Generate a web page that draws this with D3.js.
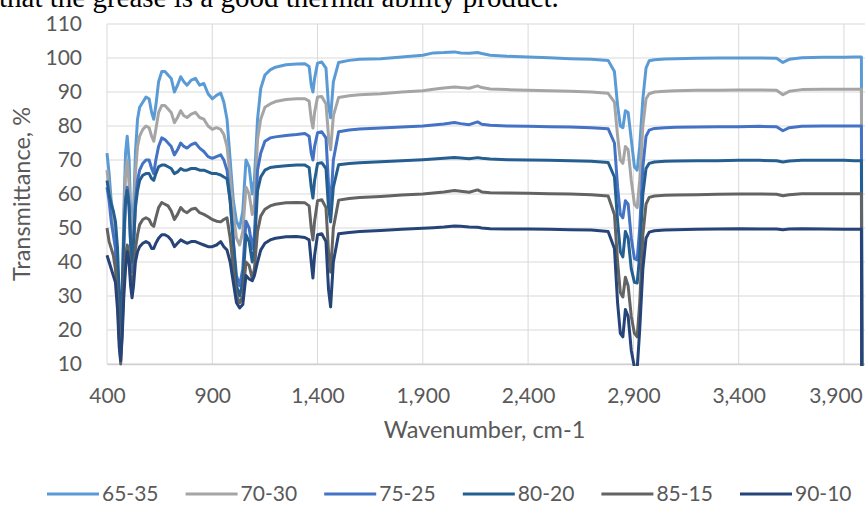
<!DOCTYPE html>
<html>
<head>
<meta charset="utf-8">
<script src="https://cdn.jsdelivr.net/npm/d3@7"></script>
<style>
  body { margin: 0; background: #fff; }
  #chartDiv { width: 865px; height: 505px; overflow: hidden; }
</style>
</head>
<body>
<div id="chartDiv"></div>
<script>
// wavenumber, cm-1 (shared by all six spectra)
var wavenumbers = [
  400, 410, 420, 430, 440, 450, 458, 465, 472, 480,
  488, 496, 505, 512, 519, 526, 535, 545, 555, 570,
  585, 600, 612, 622, 632, 645, 660, 675, 690, 705,
  720, 735, 750, 765, 780, 800, 820, 840, 860, 880,
  900, 920, 940, 955, 970, 985, 1000, 1015, 1030, 1045,
  1060, 1075, 1090, 1100, 1115, 1130, 1150, 1175, 1200, 1250,
  1300, 1340, 1360, 1370, 1378, 1386, 1400, 1420, 1440, 1452,
  1462, 1475, 1500, 1550, 1600, 1700, 1800, 1900, 1950, 2000,
  2050, 2080, 2120, 2160, 2180, 2220, 2300, 2400, 2500, 2600,
  2700, 2780, 2810, 2825, 2838, 2850, 2862, 2875, 2890, 2905,
  2918, 2930, 2945, 2960, 2975, 3000, 3050, 3100, 3200, 3300,
  3400, 3500, 3580, 3610, 3640, 3700, 3800, 3900, 3950, 3983,
  3985
];

// transmittance, %
var t6535 = [
  72, 66, 58, 54, 50, 38, 22, 15, 28, 55,
  72, 77, 70, 55, 45, 55, 72, 82, 85.5, 87,
  88.5, 88, 84, 82, 86, 93, 96, 96, 95, 94,
  90, 92, 94.5, 93, 92, 93.5, 94, 92, 92.5, 89.5,
  88, 89, 89.7, 87, 82, 70, 58, 52, 50, 55,
  70, 68, 60, 64, 82, 91, 95, 96.5, 97.3, 98,
  98.2, 98.3, 97.5, 92, 90, 94, 98.5, 98.8, 97, 86,
  82.4, 93, 98.7, 99.3, 99.6, 99.8, 100.3, 100.8, 101.5, 101.6,
  101.8, 101.5, 101.4, 101.6, 101.3, 100.8, 100.5, 100.3, 100.1, 99.8,
  99.6, 99.3, 96, 86, 80, 79.5, 84.5, 84, 76, 68,
  67, 74, 88, 97, 99.2, 99.5, 99.7, 99.8, 99.9, 100,
  100, 100, 99.9, 98.7, 99.6, 100.1, 100.2, 100.2, 100.3, 100.3,
  0
];
var t7030 = [
  67, 61, 55, 50, 46, 34, 20, 14, 25, 50,
  66, 70, 63, 50, 40, 50, 66, 74, 77, 79,
  80, 79.5, 77, 75.5, 79, 84, 86, 86, 85, 84,
  81, 82.5, 84.5, 83, 82.5, 83.5, 84, 82.5, 82, 80,
  79, 79.5, 79, 77.5, 74, 65, 54, 47, 45, 49,
  62, 60, 54, 57, 76, 82, 85.5, 86.5, 87.2, 87.8,
  88, 88, 87.3, 82, 79.4, 84, 88.5, 88.7, 86.5, 77,
  73, 83, 88.4, 88.9, 89.2, 89.5, 90, 90.4, 90.8, 91.2,
  91.5, 91.3, 91.1, 91.8, 91.3, 90.9, 90.7, 90.5, 90.4, 90.2,
  90, 89.6, 87, 77, 70, 69, 74, 73, 64, 57,
  56, 64, 80, 88, 89.5, 90, 90.2, 90.4, 90.5, 90.5,
  90.6, 90.6, 90.5, 89.2, 90.2, 90.7, 90.8, 90.8, 90.8, 90.8,
  0
];
var t7525 = [
  62, 58, 52, 48, 44, 32, 18, 13, 24, 44,
  58, 62, 57, 45, 37, 43, 58, 64, 67, 69,
  70, 70, 67.5, 66, 70, 74, 76.5, 76, 75, 74,
  71.5, 73, 75, 74, 73.5, 74.5, 75, 73.5, 72.5, 71,
  70.5, 71, 71.5, 70, 67, 58, 46, 36, 33, 38,
  52, 50, 44, 48, 67, 72, 75.5, 76.5, 76.8, 77.2,
  77.5, 77.8, 77, 72, 70, 74, 78, 78.3, 76.5, 63,
  56, 70, 78.3, 78.8, 79.1, 79.4, 79.7, 80, 80.3, 80.6,
  81, 80.7, 80.4, 81.2, 80.5, 80.2, 80, 79.9, 79.8, 79.7,
  79.5, 79.2, 75, 62, 54, 53, 58, 57, 47, 41,
  40.6, 50, 68, 77, 78.8, 79.3, 79.5, 79.6, 79.7, 79.8,
  79.8, 79.9, 79.8, 78.6, 79.5, 79.9, 80, 80, 80, 80,
  0
];
var t8020 = [
  64, 60, 57, 55, 52, 44, 30, 20, 32, 48,
  58, 61, 56, 46, 40, 46, 56, 61, 64, 65.5,
  66, 66, 64.5, 64, 66, 68, 68.5, 68.5, 68, 67.5,
  66, 66.5, 67.5, 67, 67, 67.5, 67.5, 67, 67, 66.5,
  66, 66, 65.6, 65, 64.5, 58, 46, 33, 30, 34,
  48, 46, 40, 44, 61, 65, 67, 67.8, 68, 68.3,
  68.5, 68.5, 67.8, 62, 58.8, 64, 69, 69.2, 67.5, 56,
  51.8, 62, 68.6, 69, 69.2, 69.5, 69.8, 70.1, 70.3, 70.5,
  70.7, 70.6, 70.4, 70.7, 70.5, 70.3, 70.1, 70, 69.9, 69.8,
  69.6, 69.3, 65, 52, 43, 41.5, 49, 47, 38, 34,
  33.8, 42, 60, 67.5, 69, 69.4, 69.6, 69.7, 69.8, 69.8,
  69.9, 69.9, 69.8, 69.4, 69.7, 69.9, 69.9, 69.9, 69.8, 69.8,
  0
];
var t8515 = [
  50, 46, 44, 42, 38, 30, 18, 10, 20, 34,
  42, 45, 42, 35, 32, 36, 44, 48, 51, 52.5,
  53, 52.5, 51, 50.5, 53, 56, 57.5, 57, 56.5, 55,
  52.5, 54, 56, 55, 54.5, 55.5, 55.8, 54.5, 54, 53.3,
  52.5, 52, 51.8, 52.5, 53, 47, 38, 30, 28, 30,
  40, 39, 35, 38, 49, 53.5, 55.5, 56.5, 57, 57.4,
  57.5, 57.4, 56.5, 50, 46.5, 52, 58, 58.3, 56, 43,
  37, 50, 58.2, 58.7, 59, 59.3, 59.7, 60, 60.3, 60.6,
  61, 60.8, 60.5, 61.2, 60.6, 60.4, 60.3, 60.2, 60.1, 60,
  59.8, 59.4, 54, 40, 31, 29.7, 35.5, 33, 24, 19,
  18, 28, 48, 57, 59, 59.4, 59.6, 59.7, 59.8, 59.9,
  60, 60, 59.9, 59.5, 59.8, 60.1, 60.1, 60.1, 60.1, 60.1,
  0
];
var t9010 = [
  42, 40, 38, 36, 34, 26, 15, 11, 18, 30,
  38, 43, 40, 33, 29.5, 33, 40, 43, 44.5, 45.5,
  46, 45.5, 44, 44, 45.5, 47, 48, 48, 47.5, 46.5,
  44.5, 45.5, 46.5, 46, 45.5, 46, 46, 45.5, 45, 44.5,
  44.5, 45, 46, 44.5, 43.5, 40, 34, 28, 26.5, 27.5,
  36, 35, 34.5, 36, 40, 43.5, 45.5, 46.5, 47, 47.4,
  47.5, 47.2, 46.5, 40, 35.3, 42, 48, 48.3, 46, 32,
  26.8, 40, 48.3, 48.7, 49, 49.3, 49.6, 49.9, 50.1, 50.3,
  50.6, 50.5, 50.3, 50.2, 50, 49.8, 49.7, 49.7, 49.6, 49.5,
  49.4, 49, 44, 28, 19, 18, 26, 24, 14, 9,
  8.5, 20, 38, 47, 48.8, 49.2, 49.4, 49.5, 49.6, 49.7,
  49.8, 49.7, 49.7, 49.5, 49.7, 49.8, 49.7, 49.6, 49.6, 49.6,
  0
];

var seriesNames = ["65-35", "70-30", "75-25", "80-20", "85-15", "90-10"];
var seriesValues = [t6535, t7030, t7525, t8020, t8515, t9010];
var xTicks = [400, 900, 1400, 1900, 2400, 2900, 3400, 3900];
var yTicks = [10, 20, 30, 40, 50, 60, 70, 80, 90, 100, 110];

var colors = ["#5b9bd5", "#a5a5a5", "#4472c4", "#255e91", "#636363", "#264478"];

var width = 865, height = 505;
var plot = {left: 107, right: 865, top: 24, bottom: 364};
var labelFont = "Lato, 'Open Sans', sans-serif";
var textColor = "#595959";

////////////////////////////////////////////////////////////
/////////////////////// Scales /////////////////////////////
////////////////////////////////////////////////////////////

var x = d3.scaleLinear().domain([400, 4000]).range([plot.left, plot.right]);
var y = d3.scaleLinear().domain([10, 110]).range([plot.bottom, plot.top]);

var svg = d3.select("#chartDiv").append("svg")
  .attr("width", width)
  .attr("height", height)
  .style("font-family", labelFont);

// caption line of the page above the chart (cut off in the original)
svg.append("text")
  .attr("x", -1)
  .attr("y", 7)
  .style("font-family", "'Liberation Serif', 'Times New Roman', serif")
  .style("font-size", "29px")
  .style("fill", "#000")
  .text("that the grease is a good thermal ability product.");

////////////////////////////////////////////////////////////
///////////////////// Gridlines ////////////////////////////
////////////////////////////////////////////////////////////

svg.append("g")
  .selectAll("line.hgrid")
  .data(yTicks)
  .enter().append("line")
  .attr("class", "hgrid")
  .attr("x1", plot.left).attr("x2", plot.right)
  .attr("y1", function(d) { return y(d); })
  .attr("y2", function(d) { return y(d); })
  .style("stroke", "#d9d9d9")
  .style("stroke-width", 1);

svg.append("g")
  .selectAll("line.vgrid")
  .data(xTicks)
  .enter().append("line")
  .attr("class", "vgrid")
  .attr("y1", plot.top).attr("y2", plot.bottom)
  .attr("x1", function(d) { return x(d); })
  .attr("x2", function(d) { return x(d); })
  .style("stroke", "#d9d9d9")
  .style("stroke-width", 1);

////////////////////////////////////////////////////////////
/////////////////////// Axes ///////////////////////////////
////////////////////////////////////////////////////////////

var xAxis = svg.append("g")
  .attr("transform", "translate(0," + plot.bottom + ")")
  .call(d3.axisBottom(x).tickValues(xTicks).tickSize(0).tickPadding(24).tickFormat(d3.format(",")));
xAxis.select(".domain").style("stroke", "#d0d0d0").style("stroke-width", 1.5);

var yAxis = svg.append("g")
  .attr("transform", "translate(" + plot.left + ",0)")
  .call(d3.axisLeft(y).tickValues(yTicks).tickSize(0).tickPadding(25));
yAxis.select(".domain").remove();

svg.selectAll(".tick text")
  .style("font-family", labelFont)
  .style("font-size", "21px")
  .style("fill", textColor);

// last label is pulled in so it stays inside the chart area, as Excel does
xAxis.selectAll(".tick text")
  .filter(function(d) { return d === xTicks[xTicks.length - 1]; })
  .attr("dx", "-0.4em");

svg.append("text")
  .attr("x", (plot.left + 862) / 2)
  .attr("y", 438)
  .attr("text-anchor", "middle")
  .style("font-size", "23.5px")
  .style("fill", textColor)
  .text("Wavenumber, cm-1");

svg.append("text")
  .attr("transform", "translate(30," + ((plot.top + plot.bottom) / 2) + ")rotate(-90)")
  .attr("text-anchor", "middle")
  .style("font-size", "23.5px")
  .style("fill", textColor)
  .text("Transmittance, %");

////////////////////////////////////////////////////////////
/////////////////////// Lines //////////////////////////////
////////////////////////////////////////////////////////////

svg.append("clipPath")
  .attr("id", "plotClip")
  .append("rect")
  .attr("x", plot.left - 2)
  .attr("y", plot.top - 4)
  .attr("width", plot.right - plot.left + 4)
  .attr("height", plot.bottom - plot.top + 6);

var line = d3.line()
  .x(function(d) { return x(d[0]); })
  .y(function(d) { return y(d[1]); });

svg.append("g")
  .attr("clip-path", "url(#plotClip)")
  .selectAll("path.series")
  .data(seriesValues)
  .enter().append("path")
  .attr("class", "series")
  .attr("d", function(vals) { return line(d3.zip(wavenumbers, vals)); })
  .style("fill", "none")
  .style("stroke", function(d, i) { return colors[i]; })
  .style("stroke-width", 3)
  .style("stroke-linejoin", "round");

////////////////////////////////////////////////////////////
/////////////////////// Legend /////////////////////////////
////////////////////////////////////////////////////////////

var legend = svg.append("g")
  .selectAll("g.legend")
  .data(seriesNames)
  .enter().append("g")
  .attr("class", "legend")
  .attr("transform", function(d, i) { return "translate(" + (47 + i * 138.6) + ",494)"; });

legend.append("line")
  .attr("x1", 0).attr("x2", 52)
  .style("stroke", function(d, i) { return colors[i]; })
  .style("stroke-width", 3);

legend.append("text")
  .attr("x", 55)
  .attr("dy", "0.35em")
  .style("font-size", "21px")
  .style("fill", textColor)
  .text(function(d) { return d; });
</script>
</body>
</html>
